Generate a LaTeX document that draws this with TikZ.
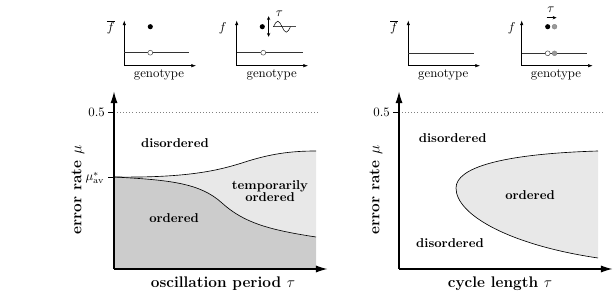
\documentclass[tikz,border=0pt]{standalone}
\usetikzlibrary{arrows.meta}
\begin{document}
\begin{tikzpicture}[x=0.78pt,y=-0.78pt,
  bigaxis/.style={line width=0.9pt,-{Latex[length=9pt,width=5.5pt]}},
  smallaxis/.style={line width=0.4pt,-{Latex[length=3.6pt,width=2.6pt]}},
  baseline/.style={line width=0.6pt,black!80},
  boundary/.style={line width=0.5pt},
  tick/.style={line width=0.6pt},
  guide/.style={dotted,black!50,line width=0.4pt},
  region/.style={font=\bfseries,align=center,inner sep=0pt},
  axlabel/.style={font=\large\bfseries,inner sep=0pt},
  dotfull/.style={circle,fill=black,inner sep=0pt,minimum size=4pt},
  dotopen/.style={circle,draw=black!70,fill=white,line width=0.4pt,inner sep=0pt,minimum size=3.8pt},
  dotgray/.style={circle,fill=black!40,draw=black!50,line width=0.3pt,inner sep=0pt,minimum size=3.8pt},
  lab/.style={inner sep=0pt}]
\useasboundingbox (0,0) rectangle (614,294);

% ---------------- small plot A ----------------
\draw[smallaxis] (124.3,65.7) -- (124.3,20.5);
\draw[smallaxis] (124.3,65.7) -- (196,65.7);
\draw[baseline] (124.3,52.7) -- (189,52.7);
\node[dotopen] (a0) at (150.3,52.7) {};
\node[dotfull] (a1) at (150.3,26.7) {};
\node[lab] (afl) at (110.7,27.5) {$\overline{f}$};
\node[lab] (agen) at (159,74.5) {genotype};

% ---------------- small plot B ----------------
\draw[smallaxis] (236.7,65.7) -- (236.7,20.5);
\draw[smallaxis] (236.7,65.7) -- (308,65.7);
\draw[baseline] (236.7,52.7) -- (302.7,52.7);
\node[dotopen] (b0) at (263.3,52.7) {};
\node[dotfull] (b1) at (262.3,26.7) {};
\node[lab] (bfl) at (222.7,28) {$f$};
\node[lab] (bgen) at (271.7,74.5) {genotype};
\coordinate (bu) at (268.6,16.2);
\coordinate (bd) at (268.6,36.8);
\draw[line width=0.4pt,{Stealth[length=3pt,width=2.6pt]}-{Stealth[length=3pt,width=2.6pt]}] (bu) -- (bd);
\draw[line width=0.4pt,black!70] (273.3,26.7) -- (296,26.7);
\draw[line width=0.4pt] (273.5,26.7) sin (277.8,21.2) cos (282,26.7) sin (286.3,32.2) cos (290.5,26.7);
\node[lab] (btau) at (279.3,13.3) {$\tau$};

% ---------------- small plot C ----------------
\draw[smallaxis] (408.3,65.7) -- (408.3,20.5);
\draw[smallaxis] (408.3,65.7) -- (480,65.7);
\draw[baseline] (408.3,53.3) -- (474,53.3);
\node[lab] (cfl) at (394,27.5) {$\overline{f}$};
\node[lab] (cgen) at (443.3,74.5) {genotype};

% ---------------- small plot D ----------------
\draw[smallaxis] (521.7,65.7) -- (521.7,20.5);
\draw[smallaxis] (521.7,65.7) -- (592.7,65.7);
\draw[baseline] (521.7,53.3) -- (587.3,53.3);
\node[dotopen] (d0) at (547.7,53.3) {};
\node[dotgray] (d0g) at (554.5,53.3) {};
\node[dotfull] (d1) at (547.7,26.7) {};
\node[dotgray] (d1g) at (554.5,26.7) {};
\node[lab] (dfl) at (511.7,28) {$f$};
\node[lab] (dgen) at (556,74.5) {genotype};
\coordinate (dl) at (546.5,17.7);
\coordinate (dr) at (556.5,17.7);
\draw[line width=0.4pt,-{Stealth[length=3pt,width=2.6pt]}] (dl) -- (dr);
\node[lab] (dtau) at (551,9.5) {$\tau$};

% ---------------- main plot left ----------------
\fill[black!20] (114,269) -- (114,177)
  .. controls (170,180) and (200,183) .. (222,203)
  .. controls (244,223) and (270,230) .. (316,237) -- (316,269) -- cycle;
\fill[black!9] (114,177)
  .. controls (190,178) and (220,170) .. (245,162)
  .. controls (270,154) and (290,151) .. (316,151) -- (316,237)
  .. controls (270,230) and (244,223) .. (222,203)
  .. controls (200,183) and (170,180) .. (114,177) -- cycle;
\draw[boundary] (114,177)
  .. controls (190,178) and (220,170) .. (245,162)
  .. controls (270,154) and (290,151) .. (316,151);
\draw[boundary] (114,177)
  .. controls (170,180) and (200,183) .. (222,203)
  .. controls (244,223) and (270,230) .. (316,237);
\draw[guide] (114,112.3) -- (320,112.3);
\draw[tick] (108,112.3) -- (114,112.3);
\draw[tick] (108,177) -- (114,177);
\draw[bigaxis] (114,269) -- (114,91.5);
\draw[bigaxis] (114,269) -- (327.5,269);
\node[lab,anchor=east] (lhalf) at (105,112.3) {$0.5$};
\node[lab,anchor=east] (lmu) at (104.5,178) {$\mu^*_{\mathrm{av}}$};
\node[axlabel,rotate=90] (lyl) at (78,190) {error rate $\mu$};
\node[axlabel] (lxl) at (223,284) {oscillation period $\tau$};
\node[region] (ldis) at (175,142.7) {disordered};
\node[region] (ltmp) at (270,191.5) {temporarily\\[-2.5pt]ordered};
\node[region] (lord) at (174,218.5) {ordered};

% ---------------- main plot right ----------------
\fill[black!9] (598,151) .. controls (500,154) and (456,168) .. (456,188)
  .. controls (456,215) and (510,245) .. (598,258) -- cycle;
\draw[boundary] (598,151) .. controls (500,154) and (456,168) .. (456,188)
  .. controls (456,215) and (510,245) .. (598,258);
\draw[guide] (399,112.3) -- (603,112.3);
\draw[tick] (393,112.3) -- (399,112.3);
\draw[bigaxis] (399,269) -- (399,91.5);
\draw[bigaxis] (399,269) -- (612.5,269);
\node[lab,anchor=east] (rhalf) at (390,112.3) {$0.5$};
\node[axlabel,rotate=90] (ryl) at (376,190) {error rate $\mu$};
\node[axlabel] (rxl) at (500,284) {cycle length $\tau$};
\node[region] (rdis1) at (452.7,138.5) {disordered};
\node[region] (rord) at (530,195.5) {ordered};
\node[region] (rdis2) at (450,243) {disordered};
\end{tikzpicture}
\end{document}
